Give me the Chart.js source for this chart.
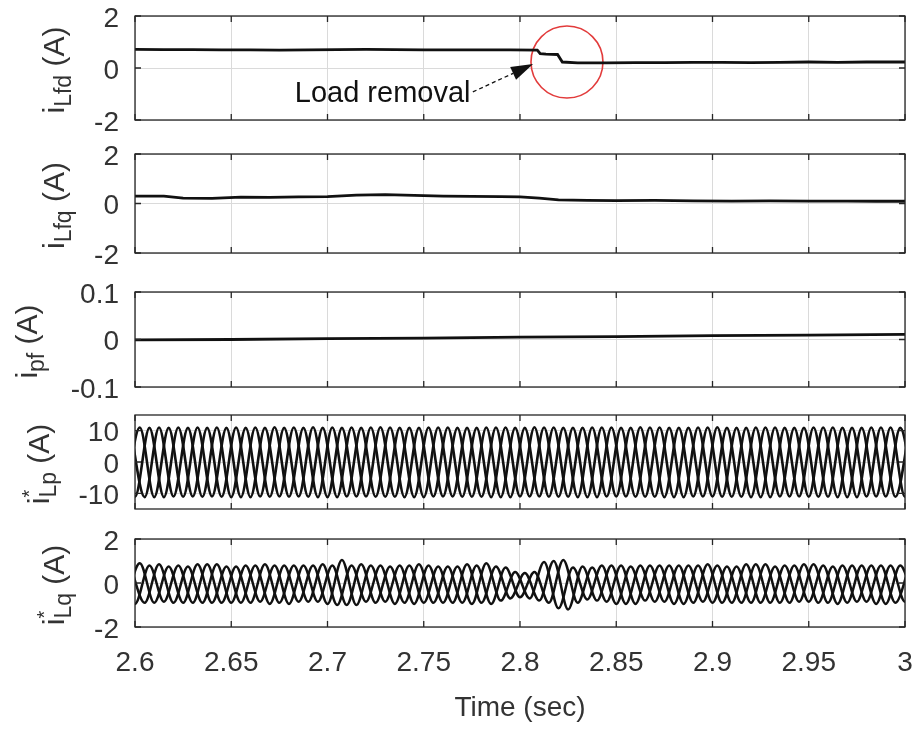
<!DOCTYPE html>
<html>
<head>
<meta charset="utf-8">
<script src="https://cdn.jsdelivr.net/npm/chart.js@4.4.0/dist/chart.umd.min.js"></script>
<style>
  body { margin: 0; background: #fff; width: 916px; height: 729px; position: relative; overflow: hidden; }
  canvas { position: absolute; left: 0; }
</style>
</head>
<body>
<canvas id="g1" width="916" height="140" style="top:0px"></canvas>
<canvas id="g2" width="916" height="137" style="top:136px"></canvas>
<canvas id="g3" width="916" height="135" style="top:272px"></canvas>
<canvas id="g4" width="916" height="132" style="top:397px"></canvas>
<canvas id="g5" width="916" height="208" style="top:521px"></canvas>
<script>
// Ejes
const ticksTiempo = [2.6, 2.65, 2.7, 2.75, 2.8, 2.85, 2.9, 2.95, 3];
const ticksCorriente = [-2, 0, 2];
const ticksPf = [-0.1, 0, 0.1];
const ticksLp = [-10, 0, 10];

// i_Lfd
const tLfd = [2.6, 2.615, 2.63, 2.645, 2.66, 2.675, 2.69, 2.705, 2.72, 2.735, 2.75, 2.765, 2.78, 2.795, 2.809,
  2.8105, 2.8135, 2.8195, 2.822, 2.83, 2.845, 2.86, 2.875, 2.89, 2.905, 2.92, 2.935, 2.95, 2.965, 2.98, 3.0];
const iLfd = [0.72, 0.71, 0.71, 0.7, 0.7, 0.69, 0.7, 0.71, 0.72, 0.71, 0.7, 0.7, 0.7, 0.7, 0.69,
  0.55, 0.53, 0.52, 0.23, 0.2, 0.2, 0.21, 0.21, 0.22, 0.22, 0.21, 0.22, 0.23, 0.22, 0.23, 0.23];

// i_Lfq
const tLfq = [2.6, 2.615, 2.625, 2.64, 2.655, 2.67, 2.685, 2.7, 2.715, 2.73, 2.745, 2.76, 2.775, 2.79, 2.8,
  2.81, 2.82, 2.835, 2.85, 2.87, 2.89, 2.91, 2.93, 2.95, 2.97, 2.985, 3.0];
const iLfq = [0.3, 0.3, 0.22, 0.21, 0.26, 0.25, 0.27, 0.28, 0.34, 0.36, 0.33, 0.3, 0.29, 0.28, 0.27,
  0.22, 0.15, 0.13, 0.12, 0.13, 0.11, 0.1, 0.11, 0.1, 0.1, 0.09, 0.09];

// i_pf
const tPf = [2.6, 2.65, 2.7, 2.75, 2.8, 2.85, 2.9, 2.95, 3.0];
const iPf = [-0.001, 0.0, 0.002, 0.003, 0.005, 0.006, 0.008, 0.009, 0.011];

// instantes de los picos de cada fase
const tFaseA = [2.595, 2.6025, 2.61, 2.6175, 2.625, 2.6325, 2.64, 2.6475, 2.655, 2.6625,
  2.67, 2.6775, 2.685, 2.6925, 2.7, 2.7075, 2.715, 2.7225, 2.73, 2.7375,
  2.745, 2.7525, 2.76, 2.7675, 2.775, 2.7825, 2.79, 2.7975, 2.805, 2.8125,
  2.82, 2.8275, 2.835, 2.8425, 2.85, 2.8575, 2.865, 2.8725, 2.88, 2.8875,
  2.895, 2.9025, 2.91, 2.9175, 2.925, 2.9325, 2.94, 2.9475, 2.955, 2.9625,
  2.97, 2.9775, 2.985, 2.9925, 3.0, 3.0075];
const tFaseB = [2.5925, 2.6, 2.6075, 2.615, 2.6225, 2.63, 2.6375, 2.645, 2.6525, 2.66,
  2.6675, 2.675, 2.6825, 2.69, 2.6975, 2.705, 2.7125, 2.72, 2.7275, 2.735,
  2.7425, 2.75, 2.7575, 2.765, 2.7725, 2.78, 2.7875, 2.795, 2.8025, 2.81,
  2.8175, 2.825, 2.8325, 2.84, 2.8475, 2.855, 2.8625, 2.87, 2.8775, 2.885,
  2.8925, 2.9, 2.9075, 2.915, 2.9225, 2.93, 2.9375, 2.945, 2.9525, 2.96,
  2.9675, 2.975, 2.9825, 2.99, 2.9975, 3.005];
const tFaseC = [2.5975, 2.605, 2.6125, 2.62, 2.6275, 2.635, 2.6425, 2.65, 2.6575, 2.665,
  2.6725, 2.68, 2.6875, 2.695, 2.7025, 2.71, 2.7175, 2.725, 2.7325, 2.74,
  2.7475, 2.755, 2.7625, 2.77, 2.7775, 2.785, 2.7925, 2.8, 2.8075, 2.815,
  2.8225, 2.83, 2.8375, 2.845, 2.8525, 2.86, 2.8675, 2.875, 2.8825, 2.89,
  2.8975, 2.905, 2.9125, 2.92, 2.9275, 2.935, 2.9425, 2.95, 2.9575, 2.965,
  2.9725, 2.98, 2.9875, 2.995, 3.0025];

// i*_Lp (picos)
const iLpA = [-11, 11, -11.2, 10.9, -11.1, 11, -11, 10.9, -11.2, 11,
  -11.1, 10.9, -11, 11.1, -11.2, 10.9, -11, 11, -11.1, 10.9,
  -11.2, 11, -11, 10.9, -11.1, 11, -11.2, 10.9, -11, 11,
  -11.1, 10.9, -11.2, 11, -11, 10.9, -11.1, 11, -11.2, 10.9,
  -11, 11.1, -11.1, 10.9, -11.2, 11, -11, 10.9, -11.1, 11,
  -11.2, 10.9, -11, 11, -11.1, 10.9];
const iLpB = [11, -11.1, 10.9, -11.2, 11, -11, 10.9, -11.1, 11, -11.2,
  10.9, -11, 11, -11.1, 10.9, -11.2, 11, -11, 11.1, -11.1,
  10.9, -11.2, 11, -11, 10.9, -11.1, 11, -11.2, 10.9, -11,
  11, -11.1, 10.9, -11.2, 11, -11, 11.1, -11.1, 10.9, -11.2,
  11, -11, 10.9, -11.1, 11, -11.2, 10.9, -11, 11, -11.1,
  10.9, -11.2, 11, -11, 10.9, -11.1];
const iLpC = [10.9, -11.2, 11, -11, 10.9, -11.1, 11, -11.2, 10.9, -11,
  11.1, -11.1, 10.9, -11.2, 11, -11, 10.9, -11.1, 11, -11.2,
  10.9, -11, 11, -11.1, 10.9, -11.2, 11, -11, 11.1, -11.1,
  10.9, -11.2, 11, -11, 10.9, -11.1, 11, -11.2, 10.9, -11,
  11, -11.1, 10.9, -11.2, 11, -11, 10.9, -11.1, 11, -11.2,
  10.9, -11, 11, -11.1, 10.9];

// i*_Lq (picos)
const iLqA = [-0.95, 0.9, -0.9, 0.75, -0.9, 0.85, -0.9, 0.75, -0.9, 0.8,
  -0.95, 0.8, -0.85, 0.8, -0.95, 1.05, -1.0, 0.8, -0.85, 0.8,
  -0.95, 0.8, -0.9, 0.75, -0.95, 0.9, -0.8, 0.5, -0.7, 0.95,
  -1.15, 0.7, -0.75, 0.8, -0.95, 0.75, -0.8, 0.8, -0.95, 0.8,
  -0.85, 0.8, -0.9, 0.85, -0.9, 0.75, -0.9, 0.85, -0.9, 0.75,
  -0.9, 0.8, -0.95, 0.8, -0.85, 0.8];
const iLqB = [0.8, -0.95, 0.8, -0.85, 0.8, -0.9, 0.85, -0.9, 0.75, -0.9,
  0.85, -0.9, 0.8, -0.85, 0.85, -1.0, 0.8, -0.85, 0.8, -0.95,
  0.8, -0.9, 0.75, -0.9, 0.85, -0.9, 0.75, -0.7, 0.45, -0.8,
  1.0, -1.2, 0.75, -0.8, 0.8, -0.95, 0.8, -0.85, 0.8, -0.95,
  0.8, -0.9, 0.75, -0.9, 0.85, -0.9, 0.8, -0.85, 0.85, -0.9,
  0.8, -0.85, 0.8, -0.95, 0.8, -0.9];
const iLqC = [0.8, -0.9, 0.85, -0.9, 0.75, -0.9, 0.85, -0.9, 0.8, -0.85,
  0.8, -0.95, 0.8, -0.85, 0.8, -1.0, 0.85, -0.9, 0.75, -0.9,
  0.85, -0.9, 0.75, -0.9, 0.8, -0.95, 0.7, -0.65, 0.5, -0.9,
  1.05, -0.9, 0.7, -0.85, 0.8, -0.95, 0.8, -0.85, 0.8, -0.9,
  0.85, -0.9, 0.75, -0.9, 0.85, -0.9, 0.8, -0.85, 0.8, -0.95,
  0.8, -0.85, 0.8, -0.9, 0.85];

// Anotación "Load removal" (en unidades de los ejes)
const circuloT = [2.8244];
const circuloY = [0.23];
const flechaT = [2.7755, 2.8068];
const flechaY = [-0.92, 0.15];
const textoT = 2.683;
const textoY = -1.0;

const FUENTE = "'Liberation Sans', Arial, Helvetica, sans-serif";
const GRIS_TEXTO = '#333';
const GRIS_GRID = '#dadada';
const COLOR_EJE = '#262626';

function puntos(ts, vs) {
  return ts.map((t, i) => ({ x: t, y: vs[i] }));
}

function serie(ts, vs, grosor, curva) {
  return {
    data: puntos(ts, vs),
    borderColor: '#111',
    borderWidth: grosor,
    pointRadius: 0,
    pointHoverRadius: 0,
    fill: false,
    tension: 0,
    clip: 0,
    cubicInterpolationMode: curva ? 'monotone' : 'default'
  };
}

function dibujarEtiquetaY(ctx, partes, xBase, yCentro) {
  let total = 0;
  const anchos = partes.map(p => {
    ctx.font = `${p.s}px ${FUENTE}`;
    const w = ctx.measureText(p.t).width;
    if (!p.sinAvance) total += w;
    return w;
  });
  ctx.save();
  ctx.translate(xBase, yCentro);
  ctx.rotate(-Math.PI / 2);
  ctx.fillStyle = GRIS_TEXTO;
  ctx.textBaseline = 'alphabetic';
  let x = -total / 2;
  partes.forEach((p, i) => {
    ctx.font = `${p.s}px ${FUENTE}`;
    ctx.fillText(p.t, x, p.dy || 0);
    if (!p.sinAvance) x += anchos[i];
  });
  ctx.restore();
}

// caja, marcas interiores y etiqueta del eje y
function marco(partes, xBase) {
  return {
    id: 'marco',
    afterDatasetsDraw(chart) {
      const { ctx, chartArea: a, scales } = chart;
      ctx.save();
      ctx.strokeStyle = COLOR_EJE;
      ctx.lineWidth = 1.3;
      ctx.strokeRect(a.left, a.top, a.right - a.left, a.bottom - a.top);
      ctx.beginPath();
      scales.x.ticks.forEach(t => {
        const px = scales.x.getPixelForValue(t.value);
        ctx.moveTo(px, a.top); ctx.lineTo(px, a.top + 6);
        ctx.moveTo(px, a.bottom); ctx.lineTo(px, a.bottom - 6);
      });
      scales.y.ticks.forEach(t => {
        const py = scales.y.getPixelForValue(t.value);
        ctx.moveTo(a.left, py); ctx.lineTo(a.left + 6, py);
        ctx.moveTo(a.right, py); ctx.lineTo(a.right - 6, py);
      });
      ctx.stroke();
      ctx.restore();
      dibujarEtiquetaY(ctx, partes, xBase, (a.top + a.bottom) / 2 + 2);
    }
  };
}

const anotacion = {
  id: 'anotacion',
  afterDatasetsDraw(chart) {
    const { ctx, scales: { x, y } } = chart;
    ctx.save();
    ctx.font = `29px ${FUENTE}`;
    ctx.fillStyle = '#111';
    ctx.textBaseline = 'middle';
    ctx.fillText('Load removal', x.getPixelForValue(textoT), y.getPixelForValue(textoY));
    const x0 = x.getPixelForValue(flechaT[0]), y0 = y.getPixelForValue(flechaY[0]);
    const x1 = x.getPixelForValue(flechaT[1]), y1 = y.getPixelForValue(flechaY[1]);
    const ang = Math.atan2(y1 - y0, x1 - x0);
    const largo = 22, ancho = 7;
    const bx = x1 - largo * Math.cos(ang), by = y1 - largo * Math.sin(ang);
    ctx.strokeStyle = '#111';
    ctx.lineWidth = 1.3;
    ctx.setLineDash([4, 3]);
    ctx.beginPath(); ctx.moveTo(x0, y0); ctx.lineTo(bx, by); ctx.stroke();
    ctx.setLineDash([]);
    ctx.beginPath();
    ctx.moveTo(x1, y1);
    ctx.lineTo(bx + ancho * Math.sin(ang), by - ancho * Math.cos(ang));
    ctx.lineTo(bx - ancho * Math.sin(ang), by + ancho * Math.cos(ang));
    ctx.closePath();
    ctx.fill();
    ctx.restore();
  }
};

function crearPanel(id, datasets, op) {
  const ctx = document.getElementById(id).getContext('2d');
  return new Chart(ctx, {
    type: 'line',
    data: { datasets },
    options: {
      responsive: false,
      animation: false,
      events: [],
      layout: { autoPadding: false, padding: { top: op.padTop, bottom: op.padBottom, left: 0, right: 11 } },
      plugins: { legend: { display: false }, tooltip: { enabled: false } },
      scales: {
        x: {
          type: 'linear', min: 2.6, max: 3,
          afterBuildTicks: s => { s.ticks = ticksTiempo.map(v => ({ value: v })); },
          afterFit: s => { s.height = op.altoX; s.paddingLeft = 0; s.paddingRight = 0; },
          grid: { color: GRIS_GRID, drawTicks: false },
          border: { display: false },
          ticks: {
            display: op.mostrarX, padding: 22, autoSkip: false, maxRotation: 0,
            color: GRIS_TEXTO, font: { family: FUENTE, size: 28, lineHeight: 1 },
            callback: v => String(v)
          },
          title: {
            display: op.mostrarX, text: 'Time (sec)', padding: 4,
            color: GRIS_TEXTO, font: { family: FUENTE, size: 28, lineHeight: 1.2 }
          }
        },
        y: {
          type: 'linear', min: op.yMin, max: op.yMax,
          afterBuildTicks: s => { s.ticks = op.yTicks.map(v => ({ value: v })); },
          afterFit: s => { s.width = 135; s.paddingTop = 0; s.paddingBottom = 0; },
          grid: { color: GRIS_GRID, drawTicks: false },
          border: { display: false },
          ticks: {
            padding: 16, labelOffset: 3, autoSkip: false,
            color: GRIS_TEXTO, font: { family: FUENTE, size: 28, lineHeight: 1 },
            callback: v => String(v)
          }
        }
      }
    },
    plugins: [marco(op.etiqueta, op.baseEtiqueta)].concat(op.extra || [])
  });
}

const circulo = {
  data: puntos(circuloT, circuloY),
  showLine: false,
  pointRadius: 36,
  pointHoverRadius: 36,
  pointBorderColor: '#e23b3b',
  pointBackgroundColor: 'rgba(0,0,0,0)',
  pointBorderWidth: 1.6
};

crearPanel('g1', [serie(tLfd, iLfd, 2.8), circulo], {
  padTop: 16, padBottom: 20, altoX: 0, mostrarX: false,
  yMin: -2, yMax: 2, yTicks: ticksCorriente, baseEtiqueta: 64,
  etiqueta: [{ t: 'i', s: 30 }, { t: 'Lfd', s: 23, dy: 7 }, { t: ' (A)', s: 30 }],
  extra: [anotacion]
});

crearPanel('g2', [serie(tLfq, iLfq, 2.8)], {
  padTop: 18, padBottom: 20, altoX: 0, mostrarX: false,
  yMin: -2, yMax: 2, yTicks: ticksCorriente, baseEtiqueta: 64,
  etiqueta: [{ t: 'i', s: 30 }, { t: 'Lfq', s: 23, dy: 7 }, { t: ' (A)', s: 30 }]
});

crearPanel('g3', [serie(tPf, iPf, 2.8)], {
  padTop: 20, padBottom: 20, altoX: 0, mostrarX: false,
  yMin: -0.1, yMax: 0.1, yTicks: ticksPf, baseEtiqueta: 37,
  etiqueta: [{ t: 'i', s: 30 }, { t: 'pf', s: 23, dy: 7 }, { t: ' (A)', s: 30 }]
});

crearPanel('g4', [serie(tFaseA, iLpA, 2.6, true), serie(tFaseB, iLpB, 2.6, true), serie(tFaseC, iLpC, 2.6, true)], {
  padTop: 18, padBottom: 20, altoX: 0, mostrarX: false,
  yMin: -15, yMax: 15, yTicks: ticksLp, baseEtiqueta: 49,
  etiqueta: [{ t: 'i', s: 30 }, { t: '*', s: 20, dy: -13, sinAvance: true }, { t: 'Lp', s: 23, dy: 7 }, { t: ' (A)', s: 30 }]
});

crearPanel('g5', [serie(tFaseA, iLqA, 2.5, true), serie(tFaseB, iLqB, 2.5, true), serie(tFaseC, iLqC, 2.5, true)], {
  padTop: 18, padBottom: 0, altoX: 102, mostrarX: true,
  yMin: -2, yMax: 2, yTicks: ticksCorriente, baseEtiqueta: 64,
  etiqueta: [{ t: 'i', s: 30 }, { t: '*', s: 20, dy: -13, sinAvance: true }, { t: 'Lq', s: 23, dy: 7 }, { t: ' (A)', s: 30 }]
});
</script>
</body>
</html>
